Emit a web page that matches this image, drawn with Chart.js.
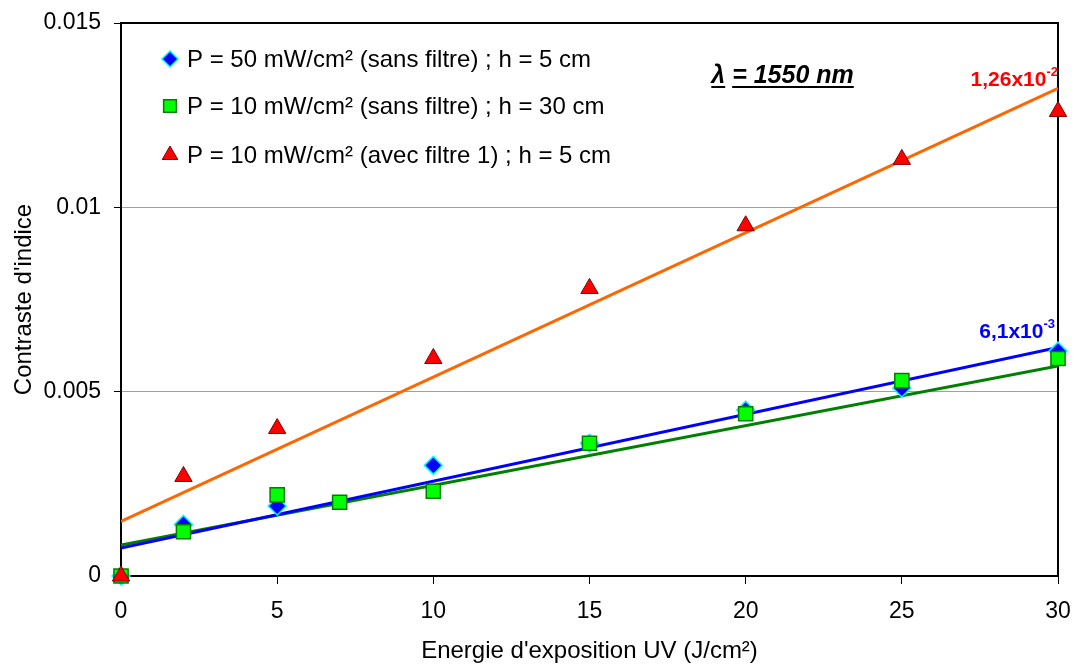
<!DOCTYPE html>
<html>
<head>
<meta charset="utf-8">
<script src="https://cdn.jsdelivr.net/npm/chart.js@4.4.1/dist/chart.umd.min.js"></script>
<style>
  html, body { margin: 0; padding: 0; background: #fff; }
  #box { width: 1074px; height: 666px; }
</style>
</head>
<body>
<div id="box"><canvas id="graphe"></canvas></div>
<script>
// Energie d'exposition (J/cm²) et contraste d'indice pour chaque série
const energie50 = [0, 2, 5, 10, 15, 20, 25, 30];
const contraste50 = [0, 0.0014, 0.0019, 0.0030, 0.0036, 0.0045, 0.0051, 0.0061];

const energie10 = [0, 2, 5, 7, 10, 15, 20, 25, 30];
const contraste10 = [0, 0.0012, 0.0022, 0.0020, 0.0023, 0.0036, 0.0044, 0.0053, 0.0059];

const energieFiltre = [0, 2, 5, 10, 15, 20, 25, 30];
const contrasteFiltre = [0, 0.0027, 0.0040, 0.0059, 0.0078, 0.0095, 0.0113, 0.0126];

// courbes de tendance (valeurs lues aux extrémités)
const energieTendance = [0, 30];
const tendance50 = [0.00076, 0.0062];
const tendance10 = [0.00084, 0.0057];
const tendanceFiltre = [0.00148, 0.01323];

const ticksY = [0, 0.005, 0.01, 0.015];

const noms = [
  "P = 50 mW/cm² (sans filtre) ; h = 5 cm",
  "P = 10 mW/cm² (sans filtre) ; h = 30 cm",
  "P = 10 mW/cm² (avec filtre 1) ; h = 5 cm",
];

const police = "'Liberation Sans', Arial, sans-serif";

function points(xs, ys) {
  return xs.map((x, i) => ({ x: x, y: ys[i] }));
}

// cadre noir autour de la zone de tracé
const cadre = {
  id: "cadre",
  beforeDatasetsDraw(chart) {
    const a = chart.chartArea;
    const c = chart.ctx;
    c.save();
    c.strokeStyle = "#000";
    c.lineWidth = 2;
    c.strokeRect(a.left, a.top, a.right - a.left, a.bottom - a.top);
    c.restore();
  },
};

// légende dans le graphique + annotations
const legendeEtTextes = {
  id: "legendeEtTextes",
  afterDraw(chart) {
    const c = chart.ctx;
    const a = chart.chartArea;
    const sx = chart.scales.x;
    const sy = chart.scales.y;
    c.save();

    // légende
    const lignesY = [a.top + 36, a.top + 83, a.top + 132];
    [0, 1, 2].forEach((i) => {
      const ds = chart.data.datasets[i];
      c.fillStyle = ds.backgroundColor;
      c.strokeStyle = ds.borderColor;
      c.lineWidth = ds.borderWidth;
      Chart.helpers.drawPoint(c, { pointStyle: ds.pointStyle, radius: ds.pointRadius - 1, rotation: 0, borderWidth: ds.borderWidth }, a.left + 49, lignesY[i]);
      c.fillStyle = "#000";
      c.font = "24px " + police;
      c.textBaseline = "middle";
      c.textAlign = "left";
      c.fillText(noms[i], a.left + 66, lignesY[i] + 1);
    });

    // lambda = 1550 nm
    c.font = "italic bold 25px " + police;
    c.textBaseline = "alphabetic";
    c.fillStyle = "#000";
    const xl = sx.getPixelForValue(18.9);
    const yl = a.top + 60;
    const lam = "λ";
    const reste = "= 1550 nm";
    const wLam = c.measureText(lam).width;
    const wSp = c.measureText(" ").width;
    c.fillText(lam, xl, yl);
    c.fillText(reste, xl + wLam + wSp, yl);
    c.fillRect(xl, yl + 3, wLam, 2);
    c.fillRect(xl + wLam + wSp, yl + 3, c.measureText(reste).width, 2);

    // valeurs des pentes
    function puissance(base, exp, couleur, xDroite, yBase) {
      c.fillStyle = couleur;
      c.textAlign = "left";
      c.font = "bold 13px " + police;
      const wExp = c.measureText(exp).width;
      c.font = "bold 21px " + police;
      const wBase = c.measureText(base).width;
      const x0 = xDroite - wExp - wBase;
      c.fillText(base, x0, yBase);
      c.font = "bold 13px " + police;
      c.fillText(exp, x0 + wBase, yBase - 10);
    }
    puissance("1,26x10", "-2", "#ff0000", sx.getPixelForValue(30), sy.getPixelForValue(0.01323) - 2);
    puissance("6,1x10", "-3", "#0000ff", sx.getPixelForValue(30) - 3, sy.getPixelForValue(0.0062) - 9);

    c.restore();
  },
};

const graphe = new Chart(document.getElementById("graphe"), {
  type: "scatter",
  data: {
    datasets: [
      {
        label: noms[0],
        data: points(energie50, contraste50),
        pointStyle: "rectRot",
        pointRadius: 9,
        backgroundColor: "#0000ff",
        borderColor: "#00ffff",
        borderWidth: 1.5,
        clip: false,
        order: 3,
      },
      {
        label: noms[1],
        data: points(energie10, contraste10),
        pointStyle: "rect",
        pointRadius: 10,
        backgroundColor: "#00ff00",
        borderColor: "#008000",
        borderWidth: 1.5,
        clip: false,
        order: 2,
      },
      {
        label: noms[2],
        data: points(energieFiltre, contrasteFiltre),
        pointStyle: "triangle",
        pointRadius: 10,
        backgroundColor: "#ff0000",
        borderColor: "#800000",
        borderWidth: 1,
        clip: false,
        order: 1,
      },
      {
        data: points(energieTendance, tendance50),
        showLine: true,
        pointRadius: 0,
        borderColor: "#0000ff",
        borderWidth: 3,
        order: 5,
      },
      {
        data: points(energieTendance, tendance10),
        showLine: true,
        pointRadius: 0,
        borderColor: "#008000",
        borderWidth: 3,
        order: 6,
      },
      {
        data: points(energieTendance, tendanceFiltre),
        showLine: true,
        pointRadius: 0,
        borderColor: "#ff6600",
        borderWidth: 3,
        order: 4,
      },
    ],
  },
  options: {
    responsive: true,
    maintainAspectRatio: false,
    animation: false,
    layout: { padding: { left: 0, right: 16, top: 23, bottom: 0 } },
    plugins: {
      legend: { display: false },
      tooltip: { enabled: false },
    },
    scales: {
      x: {
        type: "linear",
        min: 0,
        max: 30,
        ticks: { stepSize: 5, color: "#000", font: { family: police, size: 23 }, padding: 14 },
        grid: { drawOnChartArea: false, drawTicks: true, tickLength: 8, tickColor: "#000" },
        border: { color: "#000", width: 2 },
        title: {
          display: true,
          text: "Energie d'exposition UV (J/cm²)",
          color: "#000",
          font: { family: police, size: 24 },
          padding: { top: 0, bottom: 0 },
        },
        afterFit(scale) {
          scale.height = 90;
          scale.paddingLeft = 0;
          scale.paddingRight = 0;
        },
      },
      y: {
        min: 0,
        max: 0.015,
        afterBuildTicks(scale) { scale.ticks = ticksY.map((v) => ({ value: v })); },
        ticks: {
          color: "#000",
          font: { family: police, size: 23 },
          padding: 13,
          callback: (v) => String(+v.toFixed(3)),
        },
        grid: { color: "#a0a0a0", lineWidth: 1, tickLength: 7, tickColor: "#000" },
        border: { color: "#000", width: 2 },
        title: {
          display: true,
          text: "Contraste d'indice",
          color: "#000",
          font: { family: police, size: 24 },
          padding: { top: 10, bottom: 0 },
        },
        afterFit(scale) {
          scale.width = 121;
          scale.paddingTop = 0;
          scale.paddingBottom = 0;
        },
      },
    },
  },
  plugins: [cadre, legendeEtTextes],
});
</script>
</body>
</html>
